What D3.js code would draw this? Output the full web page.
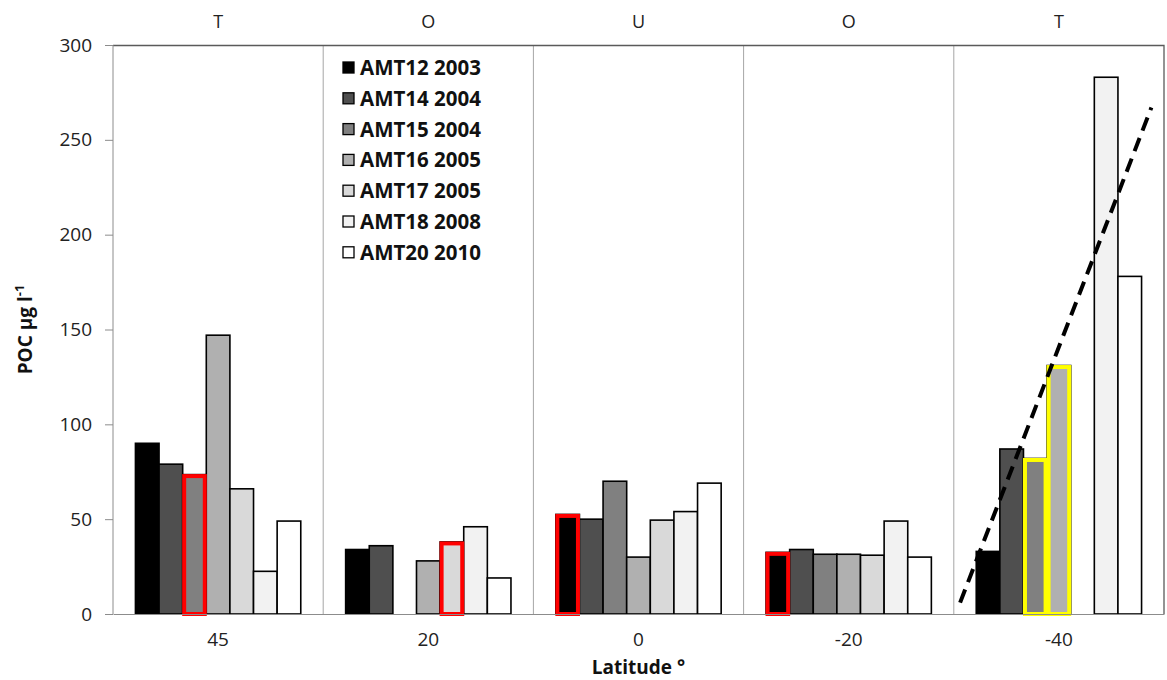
<!DOCTYPE html>
<html lang="en">
<head>
    <meta charset="UTF-8">
    <title>POC by latitude</title>
    <script src="https://d3js.org/d3.v7.min.js"></script>
    <style>
        body { margin: 0; background: #fff; }
        .tick text { font: 19px "Open Sans", sans-serif; fill: #222; }
        .zone { font: 18px "Open Sans", sans-serif; fill: #222; }
        .title { font: bold 19px "Open Sans", sans-serif; fill: #111; }
        .legend text { font: bold 20.5px "Open Sans", sans-serif; fill: #111; }
    </style>
</head>
<body>
    <div id="chart"></div>

    <script>
        // latitude groups and the zone letters above them
        const categories = ["45", "20", "0", "-20", "-40"];
        const zones = ["T", "O", "U", "O", "T"];

        // cruises and their grey fills
        const series = ["AMT12 2003", "AMT14 2004", "AMT15 2004", "AMT16 2005", "AMT17 2005", "AMT18 2008", "AMT20 2010"];
        const fills = ["#000000", "#4f4f4f", "#808080", "#b0b0b0", "#d9d9d9", "#f2f2f2", "#ffffff"];

        // POC values, one list per cruise, in the order of categories (null = no data)
        const amt12 = [90, 34, 52.5, 32.5, 33];
        const amt14 = [79, 36, 50, 34, 87];
        const amt15 = [73.5, null, 70, 31.5, 82];
        const amt16 = [147, 28, 30, 31.5, 131];
        const amt17 = [66, 38, 49.5, 31, null];
        const amt18 = [22.5, 46, 54, 49, 283];
        const amt20 = [49, 19, 69, 30, 178];
        const values = [amt12, amt14, amt15, amt16, amt17, amt18, amt20];

        // bars with a coloured outline: [category, series index, colour]
        const highlights = [
            ["45", 2, "#ff0000"], ["20", 4, "#ff0000"], ["0", 0, "#ff0000"],
            ["-20", 0, "#ff0000"], ["-40", 2, "#ffff00"], ["-40", 3, "#ffff00"]
        ];

        // dashed trend over the -40 group: position inside the band (0..1) and value
        const trend = [[0.03, 6], [0.94, 267]];

        const yTicks = [0, 50, 100, 150, 200, 250, 300];

        const width = 1167, height = 680;
        const margin = {top: 45, right: 3, bottom: 66, left: 113};
        const innerW = width - margin.left - margin.right;
        const innerH = height - margin.top - margin.bottom;

        const svg = d3.select("#chart").append("svg")
            .attr("width", width)
            .attr("height", height);
        const g = svg.append("g")
            .attr("transform", "translate(" + margin.left + "," + margin.top + ")");

        const x = d3.scaleBand().domain(categories).range([0, innerW]);
        const xi = d3.scaleBand().domain(d3.range(series.length))
            .range([0, x.bandwidth()]).paddingInner(0).paddingOuter(0.95);
        const y = d3.scaleLinear().domain([0, 300]).range([innerH, 0]);

        // group separators
        g.selectAll(".sep")
            .data(categories.slice(1))
            .enter().append("line")
            .attr("x1", d => x(d)).attr("x2", d => x(d))
            .attr("y1", 0).attr("y2", innerH)
            .attr("stroke", "#a6a6a6").attr("stroke-width", 1);

        // top and right frame
        g.append("path")
            .attr("d", "M0,0.5H" + innerW + "V" + innerH)
            .attr("fill", "none").attr("stroke", "#5a5a5a").attr("stroke-width", 1.3);

        // bars
        const cells = [];
        values.forEach((vals, s) => {
            vals.forEach((v, c) => {
                if (v !== null) cells.push({s: s, cat: categories[c], v: v});
            });
        });
        const hl = d => highlights.find(h => h[0] === d.cat && h[1] === d.s);

        g.selectAll(".bar")
            .data(cells)
            .enter().append("rect")
            .attr("class", "bar")
            .attr("x", d => x(d.cat) + xi(d.s))
            .attr("width", xi.bandwidth())
            .attr("y", d => y(d.v))
            .attr("height", d => y(0) - y(d.v))
            .attr("fill", d => fills[d.s])
            .attr("stroke", "#000")
            .attr("stroke-width", 1.6);

        // highlighted outlines on top
        g.selectAll(".hl")
            .data(cells.filter(hl))
            .enter().append("rect")
            .attr("x", d => x(d.cat) + xi(d.s) + 1.5)
            .attr("width", xi.bandwidth() - 3)
            .attr("y", d => y(d.v) + 1.5)
            .attr("height", d => y(0) - y(d.v) - 1.5)
            .attr("fill", d => fills[d.s])
            .attr("stroke", d => hl(d)[2])
            .attr("stroke-width", 4);

        // y axis
        const yAxis = g.append("g")
            .call(d3.axisLeft(y).tickValues(yTicks).tickSize(8).tickPadding(13));
        yAxis.select(".domain").attr("stroke", "#8c8c8c").attr("d", "M0,0V" + innerH);
        yAxis.selectAll(".tick line").attr("stroke", "#8c8c8c");

        // x axis
        const xAxis = g.append("g")
            .attr("transform", "translate(0," + innerH + ")")
            .call(d3.axisBottom(x).tickSize(0).tickPadding(19));
        xAxis.select(".domain").attr("stroke", "#8c8c8c");

        // dashed trend line
        const xTrend = d3.scaleLinear().domain([0, 1])
            .range([x("-40"), x("-40") + x.bandwidth()]);
        g.append("path")
            .datum(trend)
            .attr("d", d3.line().x(d => xTrend(d[0])).y(d => y(d[1])))
            .attr("fill", "none")
            .attr("stroke", "#000")
            .attr("stroke-width", 4)
            .attr("stroke-dasharray", "14,8");

        // zone letters
        g.selectAll(".zone")
            .data(categories)
            .enter().append("text")
            .attr("class", "zone")
            .attr("x", d => x(d) + x.bandwidth() / 2)
            .attr("y", -17)
            .attr("text-anchor", "middle")
            .text((d, i) => zones[i]);

        // axis titles
        svg.append("text")
            .attr("class", "title")
            .attr("x", margin.left + innerW / 2)
            .attr("y", 674)
            .attr("text-anchor", "middle")
            .text("Latitude °");

        const yt = svg.append("text")
            .attr("class", "title")
            .attr("transform", "translate(32," + (margin.top + innerH / 2) + ") rotate(-90)")
            .attr("text-anchor", "middle");
        yt.append("tspan").text("POC µg l");
        yt.append("tspan").attr("dy", -8).attr("font-size", "13px").text("-1");

        // legend
        const legend = svg.append("g")
            .attr("class", "legend")
            .attr("transform", "translate(343,62)");
        const item = legend.selectAll("g")
            .data(series)
            .enter().append("g")
            .attr("transform", (d, i) => "translate(0," + i * 30.8 + ")");
        item.append("rect")
            .attr("width", 11).attr("height", 11)
            .attr("fill", (d, i) => fills[i])
            .attr("stroke", "#000").attr("stroke-width", 1.3);
        item.append("text")
            .attr("x", 17)
            .attr("y", 13)
            .text(d => d);
    </script>
</body>
</html>
